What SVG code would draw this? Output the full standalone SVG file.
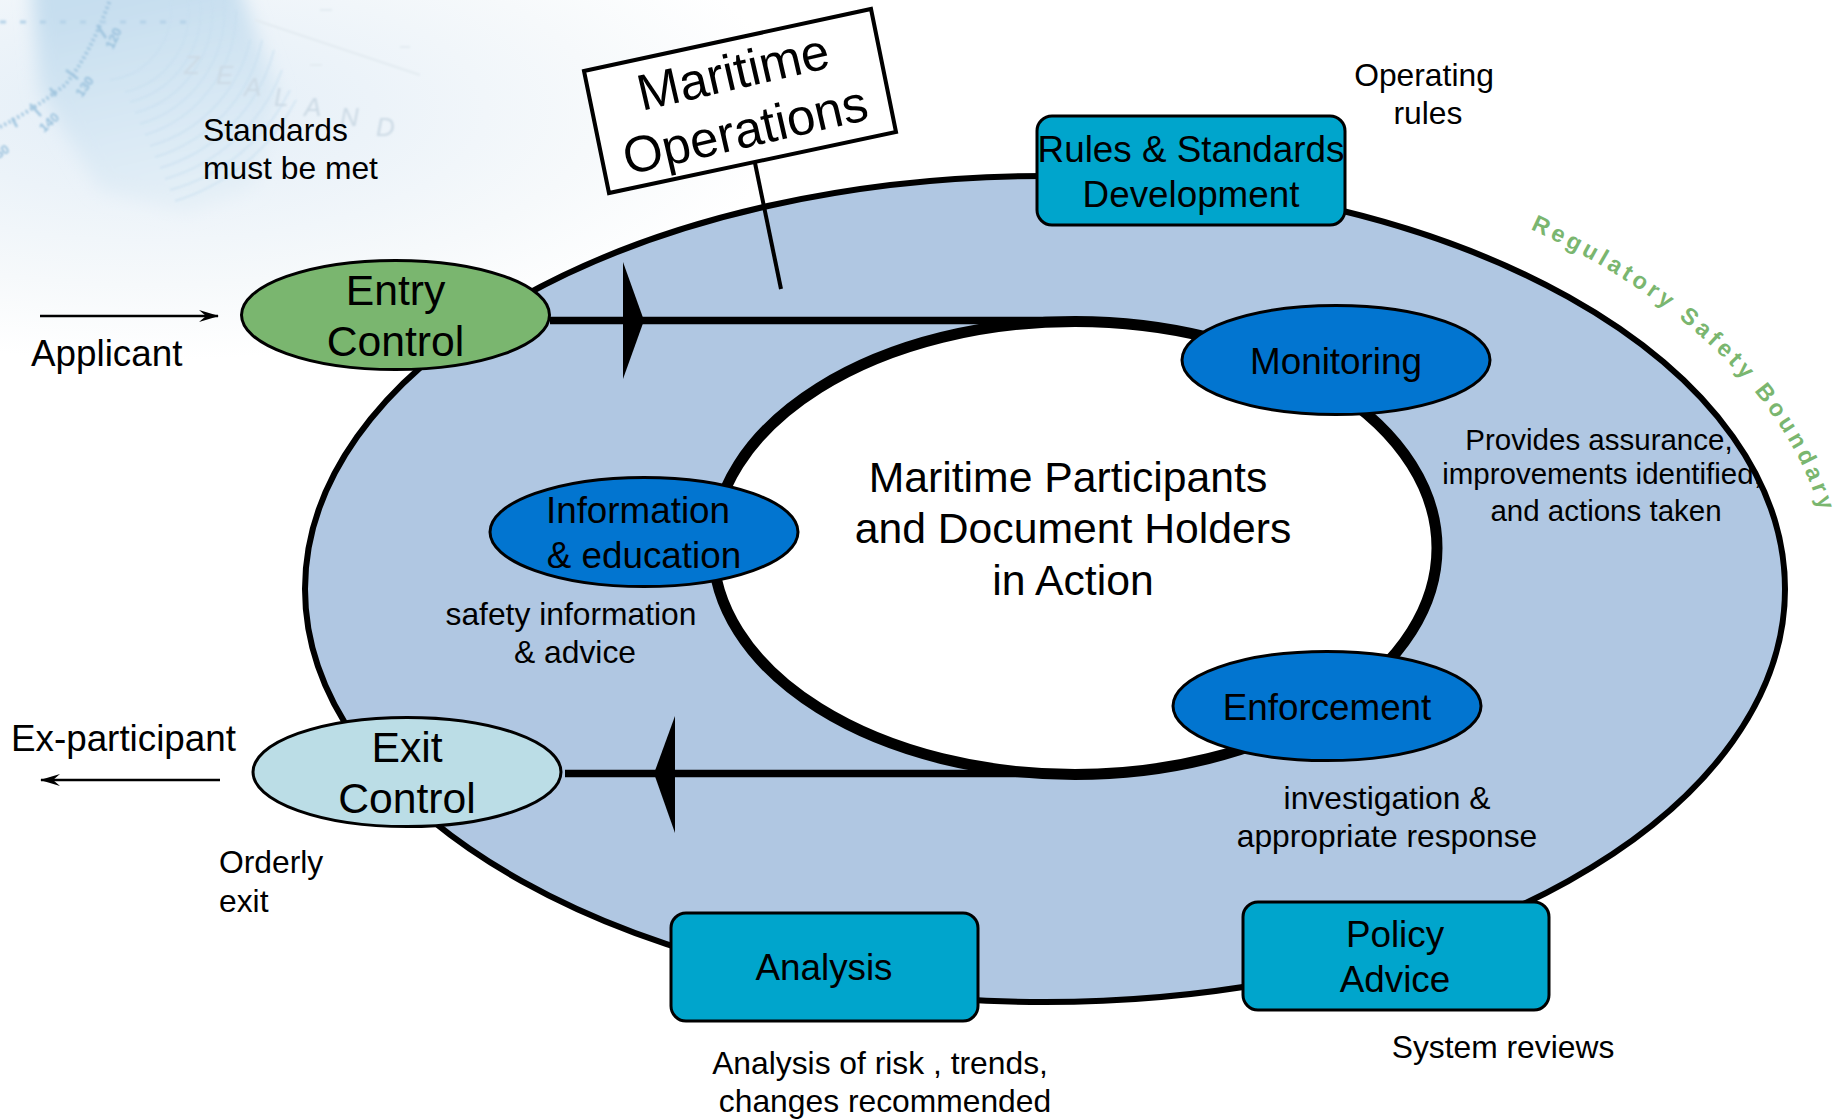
<svg xmlns="http://www.w3.org/2000/svg" width="1847" height="1120" viewBox="0 0 1847 1120">
<defs>
<radialGradient id="bg" gradientUnits="userSpaceOnUse" cx="0" cy="0" r="1" gradientTransform="translate(150 110) scale(640 250)">
<stop offset="0" stop-color="#e3eef7"/><stop offset="0.35" stop-color="#ecf3f9"/><stop offset="0.7" stop-color="#f6f9fb"/><stop offset="1" stop-color="#ffffff"/>
</radialGradient>
<linearGradient id="fanfill" gradientUnits="userSpaceOnUse" x1="120" y1="0" x2="170" y2="215">
<stop offset="0" stop-color="#c6deef"/><stop offset="0.55" stop-color="#d8e8f4"/><stop offset="1" stop-color="#e6f0f7"/>
</linearGradient>
<clipPath id="fanclip"><polygon points="30,-30 233,-30 277,93 253,187 187,212 100,190 40,90"/></clipPath>
<filter id="soft" x="-20%" y="-20%" width="140%" height="140%"><feGaussianBlur stdDeviation="9"/></filter>
<filter id="softer" x="-10%" y="-10%" width="120%" height="120%"><feGaussianBlur stdDeviation="0.8"/></filter>
<marker id="open" viewBox="0 0 20 14" refX="19" refY="7" markerWidth="20" markerHeight="14" markerUnits="userSpaceOnUse" orient="auto"><path d="M0 1 L20 7 L0 13 L7 7 Z" fill="#000"/></marker>
<path id="rsb" d="M1530 229 A785 458 0 0 1 1825 530"/>
</defs>
<style>
text{font-family:"Liberation Sans",Arial,sans-serif;fill:#000}
.m{text-anchor:middle}
.s{font-size:31.8px}
.n{font-size:36.8px}
.l{font-size:42.7px}
.p{font-size:29.5px}
.o{stroke:#000;stroke-width:3}
.wm{fill:#ccdae5;font-size:26px;font-style:italic}
.wt{fill:#98c0dc;font-size:13px;font-weight:bold}
</style>
<g id="background">
<rect x="0" y="0" width="900" height="370" fill="url(#bg)"/>
<g filter="url(#soft)">
<g clip-path="url(#fanclip)"><rect x="0" y="-30" width="300" height="260" fill="url(#fanfill)"/></g>
</g>
<g fill="none" stroke="#c6deef" stroke-width="2" opacity="0.55" filter="url(#softer)">
<path d="M170 0 A70 70 0 0 1 110 80"/><path d="M188 0 A82 82 0 0 1 125 92"/><path d="M200 0 A94 94 0 0 1 130 102"/><path d="M212 0 A106 106 0 0 1 135 113"/><path d="M224 0 A118 118 0 0 1 140 124"/><path d="M236 10 A130 130 0 0 1 145 135"/><path d="M250 40 A142 142 0 0 1 150 146"/><path d="M262 40 A154 154 0 0 1 155 157"/><path d="M274 50 A166 166 0 0 1 160 168"/><path d="M282 70 A178 178 0 0 1 165 179"/><path d="M290 90 A190 190 0 0 1 170 190"/><path d="M296 100 A202 202 0 0 1 175 201"/>
</g>
<g filter="url(#softer)">
<path d="M0 127 Q33 110 65 85 Q90 55 110 0" fill="none" stroke="#9fc4de" stroke-width="4" stroke-dasharray="2 3"/>
<g stroke="#9fc4de" stroke-width="2.5"><path d="M97 25 L106 38"/><path d="M66 70 L78 79"/><path d="M30 104 L41 116"/><path d="M50 88 L56 96"/><path d="M12 118 L17 127"/></g>
<path d="M0 22 H190" stroke="#b4d2e8" stroke-width="3" stroke-dasharray="6 14" fill="none"/>
<text class="wt" transform="translate(113 50) rotate(-65)">120</text>
<text class="wt" transform="translate(82 98) rotate(-55)">130</text>
<text class="wt" transform="translate(44 133) rotate(-42)">140</text>
<text class="wt" transform="translate(-8 163) rotate(-32)">150</text>
<text class="wm" x="184" y="74">Z</text><text class="wm" x="216" y="84">E</text><text class="wm" x="244" y="96">A</text><text class="wm" x="274" y="106">L</text><text class="wm" x="304" y="116">A</text><text class="wm" x="340" y="126">N</text><text class="wm" x="376" y="136">D</text>
<path d="M255 20 L420 75 M310 65 H322 M320 10 H332 M400 47 H410" stroke="#e3ebf1" stroke-width="2" fill="none"/>
</g>
</g>
<g id="rings">
<ellipse cx="1045" cy="589" rx="740" ry="413" fill="#b0c7e2" stroke="#000" stroke-width="6"/>
<ellipse cx="1075" cy="548" rx="362" ry="226.500" fill="#fff" stroke="#000" stroke-width="11"/>
<text class="l m" x="1068" y="492">Maritime Participants</text>
<text class="l m" x="1073" y="543">and Document Holders</text>
<text class="l m" x="1073" y="595">in Action</text>
</g>
<g id="connectors">
<path d="M550 320.5 H1078" stroke="#000" stroke-width="7.5" fill="none"/>
<polygon points="623,262 644,320.5 623,379"/>
<path d="M565 773.5 H1078" stroke="#000" stroke-width="7.5" fill="none"/>
<polygon points="675,716 654,773.5 675,833"/>
<path d="M40 316 H218" stroke="#000" stroke-width="2.5" fill="none" marker-end="url(#open)"/>
<path d="M220 780 H41" stroke="#000" stroke-width="2.5" fill="none" marker-end="url(#open)"/>
<path d="M755 163 L781 289" stroke="#000" stroke-width="4" fill="none"/>
</g>
<g id="sign">
<polygon points="584,71 871,9 896,132 609,193" fill="#fff" stroke="#000" stroke-width="4"/>
<text class="m" font-size="51" transform="translate(737 89) rotate(-13)">Maritime</text>
<text class="m" font-size="51" transform="translate(749 147) rotate(-13)">Operations</text>
</g>
<g id="rules-standards">
<rect class="o" x="1037" y="116" width="308" height="109" rx="15" fill="#00a5cc"/>
<text class="n m" x="1191" y="162">Rules &amp; Standards</text>
<text class="n m" x="1191" y="207">Development</text>
</g>
<g id="analysis">
<rect class="o" x="671" y="913" width="307" height="108" rx="15" fill="#00a5cc"/>
<text class="n m" x="824" y="980">Analysis</text>
</g>
<g id="policy-advice">
<rect class="o" x="1243" y="902" width="306" height="108" rx="15" fill="#00a5cc"/>
<text class="n m" x="1395" y="947">Policy</text>
<text class="n m" x="1395" y="992">Advice</text>
</g>
<g id="entry-control">
<ellipse class="o" cx="395.500" cy="315" rx="154" ry="54.6" fill="#7ab66f"/>
<text class="l m" x="395.500" y="305">Entry</text>
<text class="l m" x="395.500" y="356">Control</text>
</g>
<g id="exit-control">
<ellipse class="o" cx="407" cy="772" rx="154" ry="54.6" fill="#bbdde6"/>
<text class="l m" x="407" y="762">Exit</text>
<text class="l m" x="407" y="813">Control</text>
</g>
<g id="monitoring">
<ellipse class="o" cx="1336" cy="360" rx="154" ry="54.6" fill="#0275d0"/>
<text class="n m" x="1336" y="374">Monitoring</text>
</g>
<g id="information-education">
<ellipse class="o" cx="644" cy="532" rx="154" ry="54.6" fill="#0275d0"/>
<text class="n m" x="638" y="523">Information</text>
<text class="n m" x="644" y="568">&amp; education</text>
</g>
<g id="enforcement">
<ellipse class="o" cx="1327" cy="706" rx="154" ry="54.6" fill="#0275d0"/>
<text class="n m" x="1327" y="720">Enforcement</text>
</g>
<g id="labels">
<text class="s" x="203" y="141">Standards</text>
<text class="s" x="203" y="179">must be met</text>
<text class="s m" x="1424" y="86">Operating</text>
<text class="s m" x="1428" y="124">rules</text>
<text class="n" x="31" y="366">Applicant</text>
<text class="n" x="11" y="751">Ex-participant</text>
<text class="s" x="219" y="873">Orderly</text>
<text class="s" x="219" y="912">exit</text>
<text class="p m" x="1599" y="450">Provides assurance,</text>
<text class="p m" x="1602" y="484">improvements identified,</text>
<text class="p m" x="1606" y="521">and actions taken</text>
<text class="s m" x="571" y="625">safety information</text>
<text class="s m" x="575" y="663">&amp; advice</text>
<text class="s m" x="1387" y="809">investigation &amp;</text>
<text class="s m" x="1387" y="847">appropriate response</text>
<text class="s m" x="880" y="1074">Analysis of risk , trends,</text>
<text class="s m" x="885" y="1112">changes recommended</text>
<text class="s m" x="1503" y="1058">System reviews</text>
<text font-size="23.500" font-weight="bold" letter-spacing="4" style="fill:#7ab66f"><textPath href="#rsb">Regulatory Safety Boundary</textPath></text>
</g>
</svg>
